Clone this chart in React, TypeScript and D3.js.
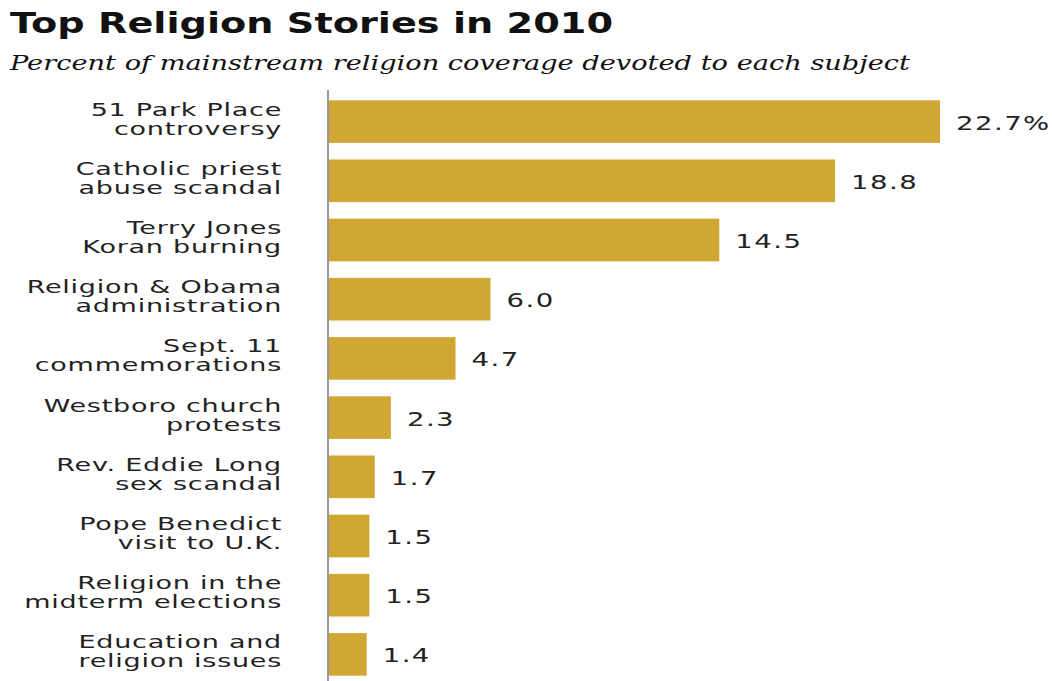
import React from "react";
import * as d3 from "d3";

const categories: string[][] = [
  ["51 Park Place", "controversy"],
  ["Catholic priest", "abuse scandal"],
  ["Terry Jones", "Koran burning"],
  ["Religion & Obama", "administration"],
  ["Sept. 11", "commemorations"],
  ["Westboro church", "protests"],
  ["Rev. Eddie Long", "sex scandal"],
  ["Pope Benedict", "visit to U.K."],
  ["Religion in the", "midterm elections"],
  ["Education and", "religion issues"],
];
const values: number[] = [22.7, 18.8, 14.5, 6.0, 4.7, 2.3, 1.7, 1.5, 1.5, 1.4];
const valueLabels: string[] = ["22.7%", "18.8", "14.5", "6.0", "4.7", "2.3", "1.7", "1.5", "1.5", "1.4"];

const W = 1052;
const H = 681;

export default function App() {
  const x0 = 329;
  const x = d3.scaleLinear().domain([0, 22.7]).range([x0, 940]);
  const y = d3
    .scaleBand<number>()
    .domain(d3.range(values.length))
    .range([92, 684])
    .paddingInner(0.28)
    .paddingOuter(0.14);
  const labelFont = "'DejaVu Sans', Verdana, sans-serif";
  return (
    <svg width={W} height={H} style={{ position: "absolute", left: 0, top: 0, background: "#fff" }}>
      <text x={10} y={33} fontFamily="'DejaVu Sans', sans-serif" fontWeight="bold" fontSize={29} fill="#111"
        textLength={603} lengthAdjust="spacingAndGlyphs">
        Top Religion Stories in 2010
      </text>
      <text x={10} y={70} fontFamily="'DejaVu Serif', Georgia, serif" fontStyle="italic" fontSize={20} fill="#111"
        textLength={900} lengthAdjust="spacingAndGlyphs">
        Percent of mainstream religion coverage devoted to each subject
      </text>
      {values.map((v, i) => {
        const yy = y(i)!;
        const bh = y.bandwidth();
        const cy = yy + bh / 2;
        return (
          <g key={i}>
            <rect x={x0} y={yy} width={x(v) - x0} height={bh} fill="#D1A733" />
            <g transform={`translate(282,${cy}) scale(1.5,1)`}>
              <text x={0} y={-6} textAnchor="end" fontFamily={labelFont} fontSize={18} fill="#222"
                style={{ letterSpacing: "0.5px" }}>
                {categories[i][0]}
              </text>
              <text x={0} y={13} textAnchor="end" fontFamily={labelFont} fontSize={18} fill="#222"
                style={{ letterSpacing: "0.5px" }}>
                {categories[i][1]}
              </text>
            </g>
            <g transform={`translate(${x(v) + 16},${cy}) scale(1.45,1)`}>
              <text x={0} y={8} fontFamily={labelFont} fontSize={19} fill="#222"
                style={{ letterSpacing: "1px" }}>
                {valueLabels[i]}
              </text>
            </g>
          </g>
        );
      })}
      <line x1={328} x2={328} y1={90} y2={681} stroke="#999" strokeWidth={2} />
    </svg>
  );
}
